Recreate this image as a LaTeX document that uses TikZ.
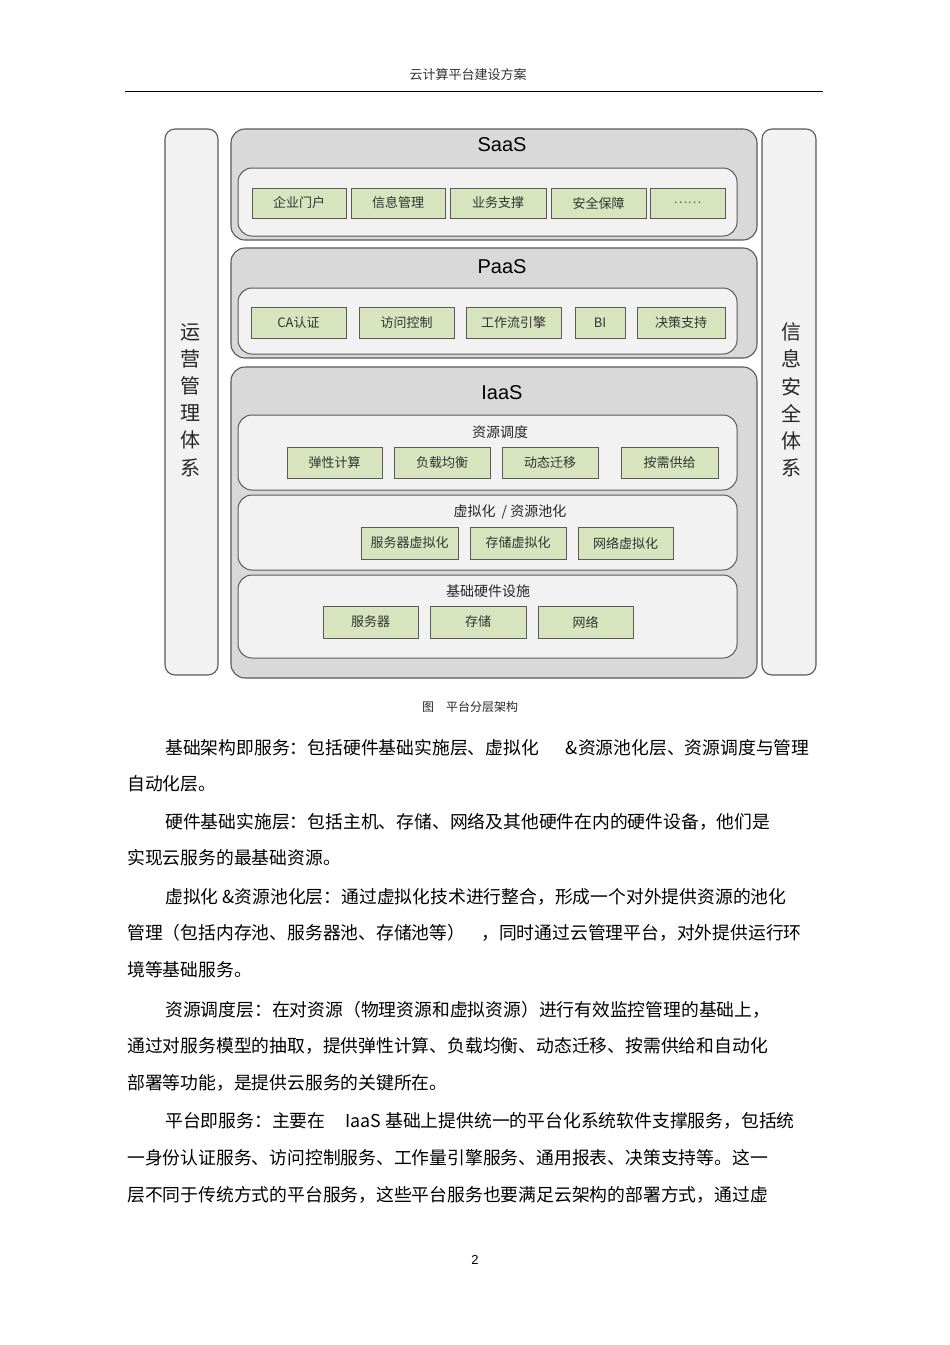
\documentclass[tikz,border=0pt]{standalone}
\usepackage{fontspec}
\setmainfont{Noto Sans CJK SC}
\newfontfamily\latinfont{Liberation Sans}
\usetikzlibrary{positioning}

\definecolor{layerfill}{HTML}{D9D9D9}
\definecolor{panelfill}{HTML}{F2F2F2}
\definecolor{itemfill}{HTML}{D7E4BD}
\definecolor{edgegray}{HTML}{595959}

\newcommand{\bodysize}{\fontsize{17.8}{20}\selectfont}

\begin{document}
\begin{tikzpicture}[x=1pt,y=-1pt,
    layer/.style={draw=edgegray,line width=1.1pt,fill=layerfill,rounded corners=14pt,inner sep=0pt},
    panel/.style={draw=edgegray,line width=1pt,fill=panelfill,rounded corners=14pt,inner sep=0pt},
    sidebar/.style={draw=edgegray,line width=1.1pt,fill=panelfill,rounded corners=10pt,inner sep=0pt},
    item/.style={draw=edgegray,line width=0.9pt,fill=itemfill,inner sep=0pt,font=\fontsize{13}{15}\selectfont,text=black!80},
    title/.style={font=\latinfont\fontsize{20}{22}\selectfont},
    sublabel/.style={font=\fontsize{14}{16}\selectfont,text=black!85},
    vtext/.style={align=center,font=\fontsize{20}{27.2}\selectfont,text=black!85},
    bodyline/.style={anchor=west,inner sep=0pt,font=\bodysize}]
    \useasboundingbox[fill=white] (0,0) rectangle (950,1345);

    % page header
    \node[font=\fontsize{13}{15}\selectfont,text=black!80] (head) at (468,75) {云计算平台建设方案};
    \coordinate (hl) at (125,91);
    \coordinate (hr) at (823,91);
    \draw[line width=0.8pt] (hl) -- (hr);

    % side bars
    \node[sidebar,minimum width=53,minimum height=546] (ops) at (191.5,402) {};
    \node[sidebar,minimum width=54,minimum height=546] (sec) at (789,402) {};
    \node[vtext] (opstext) at (190,400) {运\\营\\管\\理\\体\\系};
    \node[vtext] (sectext) at (791,400) {信\\息\\安\\全\\体\\系};

    % SaaS
    \node[layer,minimum width=526,minimum height=111] (saas) at (494,184.5) {};
    \node[title] (saastitle) at (502,145) {SaaS};
    \node[panel,minimum width=499,minimum height=68] (saasin) at (487.5,202) {};
    \node[item,minimum width=94,minimum height=30] (portal) at (299,203) {企业门户};
    \node[item,minimum width=94,minimum height=30] (infomgmt) at (398,203) {信息管理};
    \node[item,minimum width=96,minimum height=30] (bizsup) at (498,203) {业务支撑};
    \node[item,minimum width=95,minimum height=30] (safety) at (598.5,203) {安全保障};
    \node[item,minimum width=75,minimum height=30,text=black!60] (more) at (687.5,203) {……};

    % PaaS
    \node[layer,minimum width=526,minimum height=110] (paas) at (494,303) {};
    \node[title] (paastitle) at (502,267) {PaaS};
    \node[panel,minimum width=499,minimum height=66] (paasin) at (487.5,321) {};
    \node[item,minimum width=95,minimum height=31] (caauth) at (298.5,322.5) {CA认证};
    \node[item,minimum width=95,minimum height=31] (access) at (406.5,322.5) {访问控制};
    \node[item,minimum width=95,minimum height=31] (workflow) at (513.5,322.5) {工作流引擎};
    \node[item,minimum width=50,minimum height=31] (bi) at (600,322.5) {BI};
    \node[item,minimum width=88,minimum height=31] (decision) at (681,322.5) {决策支持};

    % IaaS
    \node[layer,minimum width=526,minimum height=311] (iaas) at (494,522.5) {};
    \node[title] (iaastitle) at (502,393) {IaaS};

    \node[panel,minimum width=499,minimum height=75] (sched) at (487.5,452.5) {};
    \node[sublabel] (schedlabel) at (500,432) {资源调度};
    \node[item,minimum width=95,minimum height=31] (elastic) at (334.5,462.5) {弹性计算};
    \node[item,minimum width=96,minimum height=31] (balance) at (442,462.5) {负载均衡};
    \node[item,minimum width=96,minimum height=31] (migrate) at (550,462.5) {动态迁移};
    \node[item,minimum width=97,minimum height=31] (ondemand) at (669.5,462.5) {按需供给};

    \node[panel,minimum width=499,minimum height=75] (virt) at (487.5,532.5) {};
    \node[sublabel] (virtlabel) at (510,512) {虚拟化\hspace{6pt}/ 资源池化};
    \node[item,minimum width=97,minimum height=32] (servervirt) at (409.5,543) {服务器虚拟化};
    \node[item,minimum width=96,minimum height=32] (storevirt) at (518,543) {存储虚拟化};
    \node[item,minimum width=95,minimum height=32] (netvirt) at (625.5,543) {网络虚拟化};

    \node[panel,minimum width=499,minimum height=83] (hw) at (487.5,616.5) {};
    \node[sublabel] (hwlabel) at (488,591) {基础硬件设施};
    \node[item,minimum width=95,minimum height=32] (server) at (370.5,622) {服务器};
    \node[item,minimum width=96,minimum height=32] (storage) at (478,622) {存储};
    \node[item,minimum width=95,minimum height=32] (network) at (585.5,622) {网络};

    % caption
    \node[font=\fontsize{12}{14}\selectfont,text=black!85] (caption) at (470,707) {图\quad 平台分层架构};

    % body text
    \node[bodyline] (t1) at (165,748) {基础架构即服务：包括硬件基础实施层、虚拟化\hspace{27pt}\&资源池化层、资源调度与管理};
    \node[bodyline] (t2) at (127,784) {自动化层。};
    \node[bodyline] (t3) at (165,822) {硬件基础实施层：包括主机、存储、网络及其他硬件在内的硬件设备，他们是};
    \node[bodyline] (t4) at (127,858) {实现云服务的最基础资源。};
    \node[bodyline] (t5) at (165,897) {虚拟化 \&资源池化层：通过虚拟化技术进行整合，形成一个对外提供资源的池化};
    \node[bodyline] (t6) at (127,933) {管理（包括内存池、服务器池、存储池等）\hspace{16pt}，同时通过云管理平台，对外提供运行环};
    \node[bodyline] (t7) at (127,970) {境等基础服务。};
    \node[bodyline] (t8) at (165,1010) {资源调度层：在对资源（物理资源和虚拟资源）进行有效监控管理的基础上，};
    \node[bodyline] (t9) at (127,1046) {通过对服务模型的抽取，提供弹性计算、负载均衡、动态迁移、按需供给和自动化};
    \node[bodyline] (t10) at (127,1083) {部署等功能，是提供云服务的关键所在。};
    \node[bodyline] (t11) at (165,1121) {平台即服务：主要在\hspace{20pt}IaaS 基础上提供统一的平台化系统软件支撑服务，包括统};
    \node[bodyline] (t12) at (127,1158) {一身份认证服务、访问控制服务、工作量引擎服务、通用报表、决策支持等。这一};
    \node[bodyline] (t13) at (127,1195) {层不同于传统方式的平台服务，这些平台服务也要满足云架构的部署方式，通过虚};

    % page number
    \node[font=\latinfont\fontsize{13}{15}\selectfont] (pageno) at (475,1260) {2};
\end{tikzpicture}
\end{document}
